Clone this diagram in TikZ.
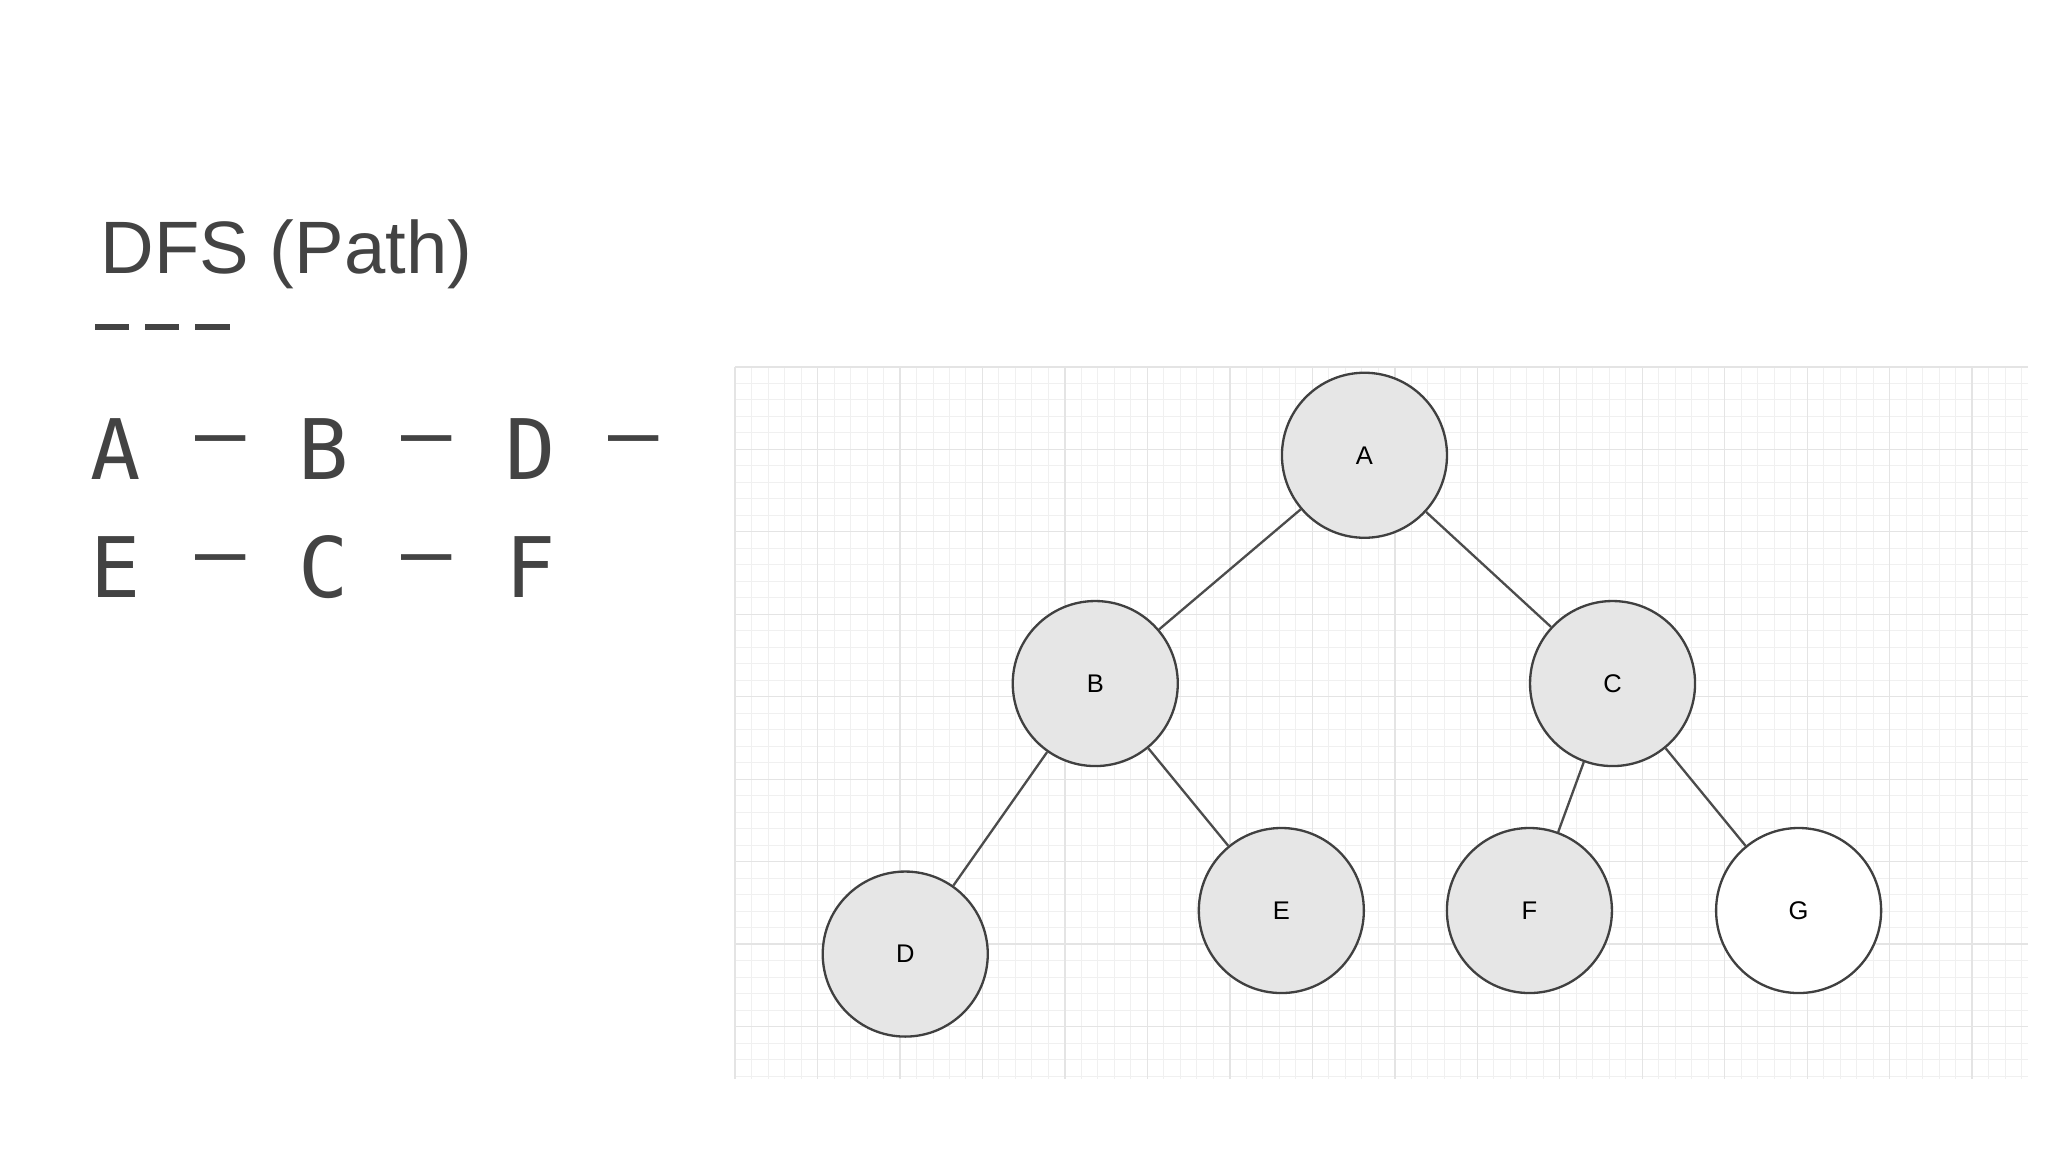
\documentclass[tikz,border=0pt]{standalone}
\usepackage{fontspec}
\setmainfont{Liberation Sans}
\newfontfamily\monof{DejaVu Sans Mono}
\definecolor{txt}{HTML}{434343}
\definecolor{nodefill}{HTML}{E6E6E6}
\definecolor{gridc}{HTML}{F0F0F0}
\definecolor{gridd}{HTML}{E4E4E4}
\begin{document}
\begin{tikzpicture}[x=0.01cm,y=-0.01cm,
  vert/.style={circle,draw=black!75,line width=0.5pt,minimum size=1.25cm,inner sep=0pt,fill=nodefill,font=\fontsize{5.5}{6}\selectfont},
  edge/.style={draw=black!70,line width=0.5pt},
  seq/.style={text=txt,font=\monof\fontsize{18}{20}\selectfont,anchor=center}]
\useasboundingbox (0,0) rectangle (1552,873);
% grid
\foreach \x in {557,569.5,...,1537} \draw[gridc,line width=0.2pt] (\x,278) -- (\x,818);
\foreach \y in {278,290.5,...,818} \draw[gridc,line width=0.2pt] (557,\y) -- (1537,\y);
\foreach \x in {557,619.5,...,1537} \draw[gridd,line width=0.3pt] (\x,278) -- (\x,818);
\foreach \y in {278,340.5,...,818} \draw[gridd,line width=0.3pt] (557,\y) -- (1537,\y);
% title
\node[anchor=west,text=txt,font=\fontsize{16}{18}\selectfont] (title) at (64,193) {DFS (Path)};
\foreach \a in {72,110,148} \draw[txt,line width=1.2pt] (\a,248) -- ++(26,0);
% sequence
\node[seq] (s1) at (88,340) {A};
\node[seq] (s2) at (167,340) {–};
\node[seq] (s3) at (245,340) {B};
\node[seq] (s4) at (323,340) {–};
\node[seq] (s5) at (402,340) {D};
\node[seq] (s6) at (480,340) {–};
\node[seq] (s7) at (88,430) {E};
\node[seq] (s8) at (167,430) {–};
\node[seq] (s9) at (245,430) {C};
\node[seq] (s10) at (323,430) {–};
\node[seq] (s11) at (402,430) {F};
% tree
\node[vert] (A) at (1034,345) {A};
\node[vert] (B) at (830,518) {B};
\node[vert] (C) at (1222,518) {C};
\node[vert] (D) at (686,723) {D};
\node[vert] (E) at (971,690) {E};
\node[vert] (F) at (1159,690) {F};
\node[vert,fill=white] (G) at (1363,690) {G};
\draw[edge] (A) -- (B);
\draw[edge] (A) -- (C);
\draw[edge] (B) -- (D);
\draw[edge] (B) -- (E);
\draw[edge] (C) -- (F);
\draw[edge] (C) -- (G);
\end{tikzpicture}
\end{document}
